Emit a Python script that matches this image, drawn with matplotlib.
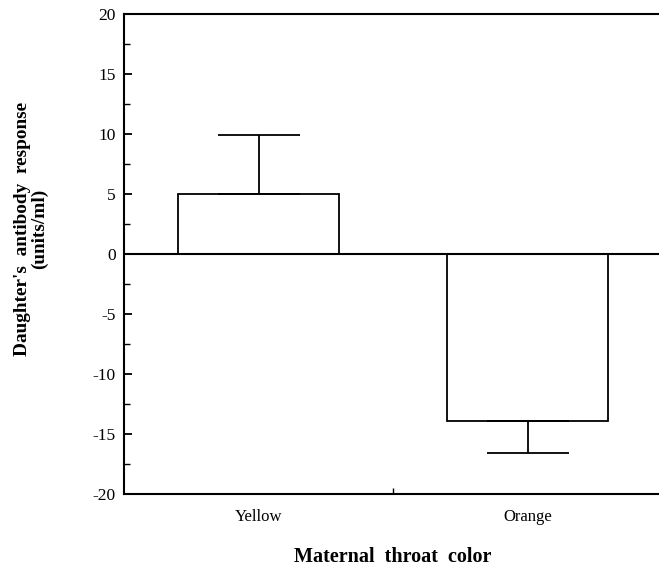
import matplotlib
matplotlib.use('Agg')
import numpy as np
import matplotlib.pyplot as plt
from matplotlib.ticker import MultipleLocator

# Data
categories = ['Yellow', 'Orange']
means = [5.0, -13.9]
errors = [4.9, 2.7]   # one-sided SE, drawn away from zero

plt.rcParams['font.family'] = ['Liberation Serif', 'DejaVu Serif']
plt.rcParams['axes.unicode_minus'] = False

W, H = 659, 571
fig = plt.figure(figsize=(W / 100, H / 100), dpi=100)
ax = fig.add_axes([124 / W, 77 / H, 538 / W, 480 / H])

x = np.arange(len(categories))
ax.bar(x, means, width=0.6, color='white', edgecolor='black', linewidth=1.3, zorder=2)

# one-sided error bars
lower = [0 if m > 0 else e for m, e in zip(means, errors)]
upper = [e if m > 0 else 0 for m, e in zip(means, errors)]
ax.errorbar(x, means, yerr=[lower, upper], fmt='none', ecolor='black',
            elinewidth=1.3, capsize=29.5, capthick=1.3, zorder=3)

ax.axhline(0, color='black', linewidth=1.5, zorder=4)

ax.set_xlim(-0.5, 1.5)
ax.set_ylim(-20, 20)
ax.yaxis.set_major_locator(MultipleLocator(5))
ax.yaxis.set_minor_locator(MultipleLocator(2.5))
ax.set_xticks([0.5], minor=False)
ax.set_xticks(x, minor=True)
ax.set_xticklabels([''])
ax.set_xticklabels(categories, minor=True)

ax.tick_params(axis='y', which='major', direction='in', length=6, width=1.3,
               labelsize=12.5, pad=6)
ax.tick_params(axis='y', which='minor', direction='in', length=4, width=1)
ax.tick_params(axis='x', which='major', direction='in', length=4, width=1)
ax.tick_params(axis='x', which='minor', length=0, labelsize=12, pad=11)

for side in ['left', 'bottom', 'top', 'right']:
    ax.spines[side].set_linewidth(1.5)

fig.text(31 / W, 1 - 229 / H, "Daughter's  antibody  response\n(units/ml)",
         rotation=90, ha='center', va='center', fontsize=13.9,
         fontweight='bold', linespacing=1.05, multialignment='center')
fig.text(393 / W, 1 - 557 / H, 'Maternal  throat  color', ha='center',
         va='center', fontsize=14.5, fontweight='bold')

fig.savefig('out.png', dpi=100)
